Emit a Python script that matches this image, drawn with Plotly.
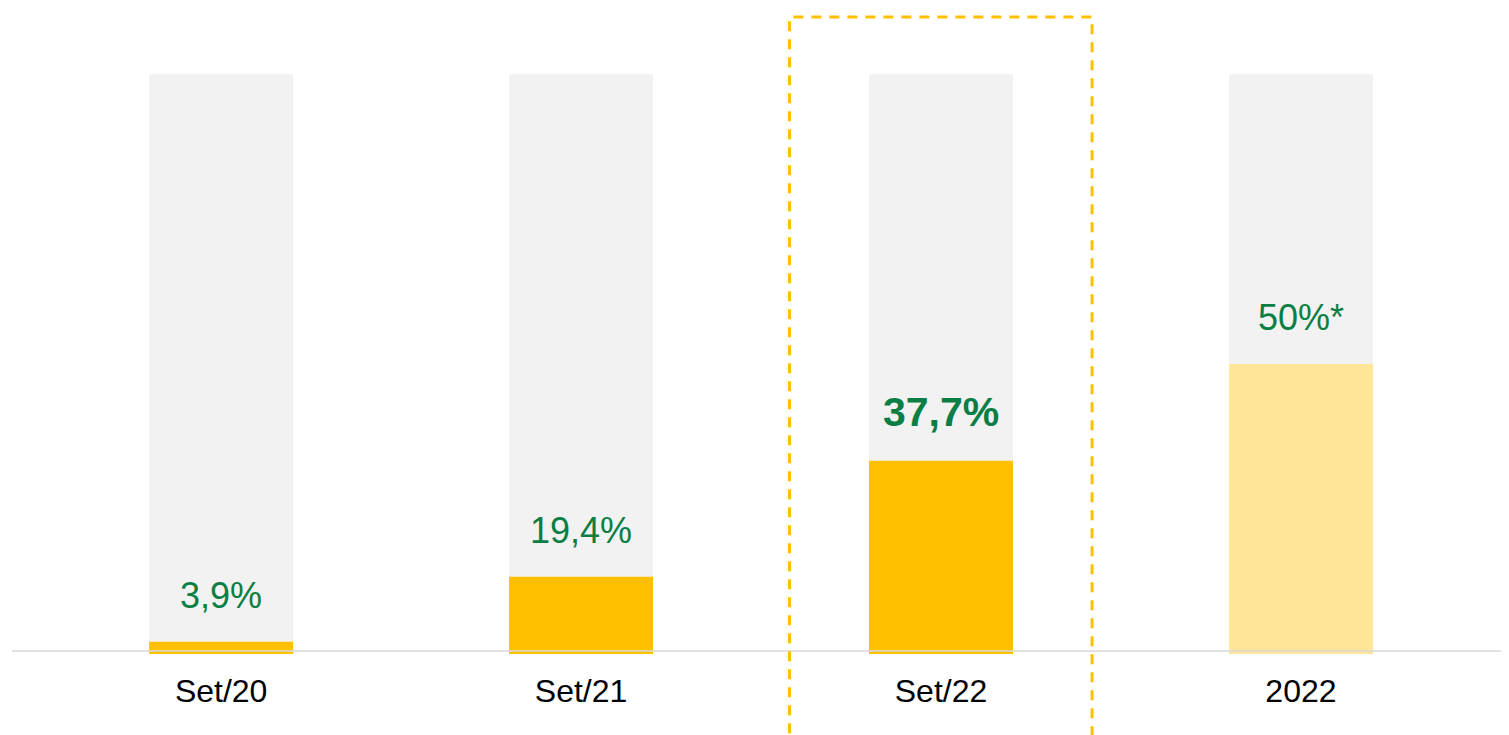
import plotly.graph_objects as go

categories = ["Set/20", "Set/21", "Set/22", "2022"]
bar_heights = [2.1, 13.3, 33.3, 50.0]
background = [100, 100, 100, 100]
labels = ["3,9%", "19,4%", "<b>37,7%</b>", "50%*"]
label_sizes = [36, 36, 41, 36]
bar_colors = ["#FFC000", "#FFC000", "#FFC000", "#FFE699"]

FONT = "Liberation Sans, Arial, sans-serif"
GREEN = "#0A7F45"

fig = go.Figure()
fig.add_trace(go.Bar(x=categories, y=background, marker=dict(color="#F2F2F2", line_width=0),
                     width=0.4, hoverinfo="skip", showlegend=False))
fig.add_trace(go.Bar(x=categories, y=bar_heights, marker=dict(color=bar_colors, line_width=0),
                     width=0.4, showlegend=False))

for i, (h, t, s) in enumerate(zip(bar_heights, labels, label_sizes)):
    fig.add_annotation(x=i, y=h, text=t, showarrow=False, yanchor="bottom", yshift=24,
                       font=dict(family=FONT, size=s, color=GREEN))

# baseline
fig.add_shape(type="line", xref="paper", yref="y", x0=0, x1=1, y0=0.5, y1=0.5,
              line=dict(color="#D9D9D9", width=1.5), layer="above")
# dashed highlight box
fig.add_shape(type="rect", xref="paper", yref="paper", x0=0.5194, x1=0.7215, y0=-0.3, y1=0.986,
              line=dict(color="#FFC000", width=3, dash="10px,8px"), fillcolor="rgba(0,0,0,0)")

fig.update_layout(
    width=1501, height=727,
    margin=dict(l=4, r=0, t=0, b=81),
    barmode="overlay",
    plot_bgcolor="white", paper_bgcolor="white",
    font=dict(family=FONT, color="black"),
    xaxis=dict(type="category", range=[-0.581, 3.578], showgrid=False, showline=False, zeroline=False,
               ticks="outside", ticklen=9, tickcolor="rgba(0,0,0,0)",
               tickfont=dict(family=FONT, size=32, color="black")),
    yaxis=dict(range=[0, 111.38], visible=False, showgrid=False, zeroline=False),
)

fig.write_html("out.html")
